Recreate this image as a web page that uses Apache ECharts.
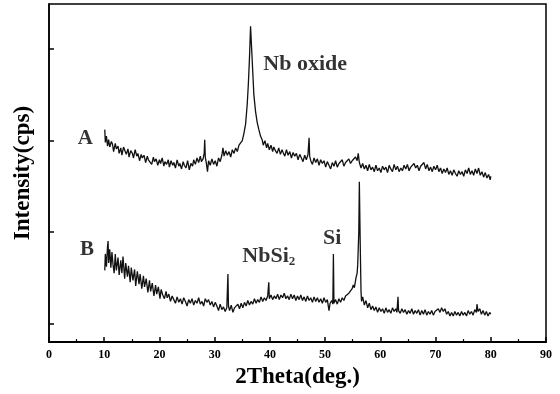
<!DOCTYPE html>
<html>
<head>
<meta charset="utf-8">
<script src="https://cdn.jsdelivr.net/npm/echarts@6/dist/echarts.min.js"></script>
<style>
  html, body { margin: 0; padding: 0; background: #fff; }
  #chart { width: 560px; height: 394px; }
</style>
</head>
<body>
<div id="chart"></div>
<script>
// 2Theta (deg) / intensity pairs (arbitrary cps units)
var traceA = [
  [10.1,212],[10.2,198],[10.4,205],[10.6,194],[10.8,201],[11.0,193],[11.3,199],[11.5,196],[11.7,188],[12.0,197],
  [12.2,191],[12.5,194],[12.7,186],[13.0,192],[13.2,184],[13.5,193],[13.8,188],[14.0,185],[14.3,191],[14.5,182],
  [14.8,189],[15.1,186],[15.3,181],[15.6,190],[15.9,183],[16.1,186],[16.4,178],[16.7,185],[16.9,181],[17.2,184],
  [17.5,176],[17.8,183],[18.0,179],[18.3,181],[18.6,174],[18.9,182],[19.1,177],[19.4,180],[19.7,173],[20.0,179],
  [20.2,175],[20.5,181],[20.8,172],[21.0,177],[21.3,174],[21.6,179],[21.8,171],[22.1,178],[22.4,173],[22.6,176],
  [22.9,170],[23.2,179],[23.5,172],[23.7,175],[24.0,169],[24.3,177],[24.5,173],[24.8,170],[25.1,178],[25.4,168],
  [25.7,175],[26.0,172],[26.2,179],[26.5,174],[26.8,181],[27.1,176],[27.4,183],[27.6,177],[27.9,180],[28.1,186],
  [28.2,201],[28.3,182],[28.5,175],[28.7,166],[28.9,178],[29.2,173],[29.5,180],[29.8,174],[30.1,178],[30.4,172],
  [30.7,181],[31.0,177],[31.3,184],[31.5,192],[31.7,183],[32.0,189],[32.3,184],[32.6,188],[32.9,182],[33.2,190],
  [33.5,186],[33.8,192],[34.1,188],[34.4,195],[34.7,193],[35.0,200],[35.3,208],[35.6,218],[35.9,240],[36.1,262],
  [36.3,290],[36.5,325],[36.7,300],[36.9,275],[37.1,250],[37.4,232],[37.7,220],[38.0,212],[38.3,205],[38.6,201],
  [38.8,195],[39.1,200],[39.4,192],[39.6,197],[39.9,190],[40.2,195],[40.5,188],[40.7,193],[41.0,189],[41.3,186],
  [41.6,192],[41.9,185],[42.2,190],[42.4,187],[42.7,183],[43.0,190],[43.3,184],[43.6,188],[43.9,181],[44.2,187],
  [44.5,183],[44.8,186],[45.1,179],[45.4,185],[45.7,181],[46.0,177],[46.3,184],[46.6,179],[46.9,185],[47.1,203],
  [47.2,183],[47.4,178],[47.7,174],[48.0,181],[48.3,176],[48.6,180],[48.9,173],[49.2,179],[49.5,175],[49.8,178],
  [50.1,171],[50.4,177],[50.7,173],[51.0,169],[51.3,176],[51.6,172],[51.9,178],[52.2,171],[52.5,175],[52.8,173],
  [53.1,179],[53.4,172],[53.7,176],[54.0,174],[54.3,180],[54.6,175],[54.9,178],[55.2,176],[55.5,182],[55.8,178],
  [56.0,186],[56.2,176],[56.5,170],[56.8,175],[57.1,169],[57.4,173],[57.7,167],[58.0,174],[58.3,168],[58.6,171],
  [58.9,166],[59.2,173],[59.5,167],[59.8,170],[60.1,165],[60.4,172],[60.7,168],[61.0,171],[61.3,165],[61.6,173],
  [61.9,169],[62.2,166],[62.5,174],[62.8,168],[63.1,172],[63.4,166],[63.7,170],[64.0,167],[64.3,173],[64.6,169],
  [64.9,174],[65.2,167],[65.5,171],[65.8,169],[66.1,175],[66.4,170],[66.7,173],[67.0,167],[67.3,172],[67.6,170],
  [67.9,176],[68.2,169],[68.5,174],[68.8,167],[69.1,171],[69.4,166],[69.7,172],[70.0,168],[70.3,173],[70.6,166],
  [70.9,170],[71.2,164],[71.5,169],[71.8,165],[72.1,170],[72.4,163],[72.7,167],[73.0,162],[73.3,168],[73.6,164],
  [73.9,161],[74.2,167],[74.5,163],[74.8,166],[75.1,161],[75.4,168],[75.7,164],[76.0,170],[76.3,163],[76.6,167],
  [76.9,162],[77.2,169],[77.5,164],[77.8,170],[78.1,162],[78.4,166],[78.7,160],[79.0,165],[79.3,159],[79.6,163],
  [79.9,157],[80.0,161]
];
var traceB = [
  [10.1,58],[10.2,76],[10.4,62],[10.6,84],[10.7,90],[10.8,66],[11.0,81],[11.2,61],[11.4,78],[11.6,64],
  [11.8,55],[12.0,76],[12.2,58],[12.5,72],[12.7,53],[13.0,69],[13.2,55],[13.4,73],[13.7,49],[13.9,66],
  [14.2,51],[14.4,63],[14.7,45],[14.9,61],[15.2,47],[15.5,59],[15.7,41],[16.0,57],[16.3,43],[16.5,54],
  [16.8,38],[17.1,52],[17.3,40],[17.6,49],[17.9,34],[18.2,47],[18.4,35],[18.7,44],[19.0,30],[19.3,42],
  [19.5,32],[19.8,40],[20.1,27],[20.3,37],[20.6,31],[20.9,27],[21.2,35],[21.4,28],[21.7,32],[22.0,24],
  [22.3,30],[22.6,26],[22.9,22],[23.2,29],[23.5,23],[23.8,27],[24.1,21],[24.4,28],[24.7,24],[25.0,19],
  [25.3,26],[25.6,22],[25.9,27],[26.2,20],[26.5,25],[26.8,22],[27.1,28],[27.4,21],[27.7,24],[28.0,19],
  [28.3,27],[28.6,23],[28.9,26],[29.2,20],[29.5,24],[29.8,18],[30.1,23],[30.4,19],[30.7,14],[31.0,21],
  [31.3,15],[31.6,18],[31.9,13],[32.2,17],[32.4,54],[32.5,19],[32.7,14],[33.0,20],[33.3,12],[33.6,17],
  [33.9,15],[34.2,21],[34.5,16],[34.8,22],[35.1,17],[35.4,23],[35.7,19],[36.0,25],[36.3,20],[36.6,24],
  [36.9,21],[37.2,27],[37.5,22],[37.8,26],[38.1,23],[38.4,29],[38.7,24],[39.0,28],[39.3,25],[39.6,30],
  [39.8,45],[39.9,27],[40.2,31],[40.5,26],[40.8,30],[41.1,27],[41.4,32],[41.7,26],[42.0,31],[42.3,28],
  [42.6,33],[42.9,27],[43.2,30],[43.5,26],[43.8,32],[44.1,27],[44.4,31],[44.7,25],[45.0,30],[45.3,26],
  [45.6,31],[45.9,25],[46.2,29],[46.5,24],[46.8,30],[47.1,25],[47.4,28],[47.7,23],[48.0,29],[48.3,24],
  [48.6,28],[48.9,23],[49.2,27],[49.5,22],[49.8,28],[50.1,23],[50.4,26],[50.7,14],[50.9,22],[51.2,25],
  [51.4,21],[51.5,76],[51.6,22],[51.9,26],[52.2,21],[52.5,27],[52.8,23],[53.1,28],[53.4,25],[53.7,30],
  [54.0,28],[54.3,33],[54.6,31],[54.9,38],[55.1,42],[55.3,39],[55.6,50],[55.8,55],[55.9,64],[56.1,100],
  [56.2,155],[56.35,90],[56.5,35],[56.6,24],[56.8,29],[57.1,20],[57.4,25],[57.7,17],[58.0,22],[58.3,15],
  [58.6,19],[58.9,14],[59.2,18],[59.5,12],[59.8,17],[60.1,13],[60.4,16],[60.7,11],[61.0,17],[61.3,12],
  [61.6,15],[61.9,11],[62.2,17],[62.5,13],[62.8,16],[63.0,12],[63.2,29],[63.3,14],[63.6,11],[63.9,16],
  [64.2,12],[64.5,15],[64.8,10],[65.1,14],[65.4,11],[65.7,16],[66.0,10],[66.3,14],[66.6,11],[66.9,15],
  [67.2,9],[67.5,14],[67.8,10],[68.1,15],[68.4,9],[68.7,13],[69.0,10],[69.3,14],[69.6,9],[69.9,13],
  [70.2,11],[70.5,16],[70.8,12],[71.1,17],[71.4,13],[71.7,16],[72.0,10],[72.3,13],[72.6,8],[72.9,12],
  [73.2,8],[73.5,13],[73.8,9],[74.1,12],[74.4,8],[74.7,13],[75.0,9],[75.3,12],[75.6,8],[75.9,14],
  [76.2,10],[76.5,13],[76.8,9],[77.1,15],[77.4,12],[77.5,21],[77.7,13],[78.0,16],[78.3,10],[78.6,14],
  [78.9,9],[79.2,13],[79.5,8],[79.8,12],[80.0,10]
];
// y ticks (no labels shown)
var yTicks = [0, 100, 200, 300];
// annotations: [2Theta, intensity, text]
var notes = [
  [5.2, 202, "A"],
  [5.6, 81, "B"],
  [38.8, 285, "Nb oxide"],
  [35.0, 74, "NbSi2"],
  [49.6, 94, "Si"]
];

var serif = "'Liberation Serif', 'Times New Roman', serif";
var chart = echarts.init(document.getElementById("chart"));

var option = {
  animation: false,
  backgroundColor: "#fff",
  grid: {
    left: 49, right: 14, top: 4, bottom: 47,
    show: true, borderColor: "#000", borderWidth: 1.5
  },
  xAxis: {
    type: "value",
    min: 0, max: 90, interval: 10,
    name: "2Theta(deg.)",
    nameLocation: "middle",
    nameGap: 20,
    nameTextStyle: { fontFamily: serif, fontWeight: "bold", fontSize: 23, color: "#000" },
    axisLine: { onZero: false, lineStyle: { color: "#000", width: 2 } },
    axisTick: { inside: true, length: 5, lineStyle: { color: "#000", width: 1.5 } },
    minorTick: { show: true, splitNumber: 2, length: 3, lineStyle: { color: "#000", width: 1.2 } },
    axisLabel: { fontFamily: serif, fontWeight: "bold", fontSize: 12, color: "#000", margin: 7 },
    splitLine: { show: false }
  },
  yAxis: {
    type: "value",
    min: -20.5, max: 349.5,
    name: "Intensity(cps)",
    nameLocation: "middle",
    nameGap: 14,
    nameTextStyle: { fontFamily: serif, fontWeight: "bold", fontSize: 23, color: "#000" },
    axisLine: { onZero: false, lineStyle: { color: "#000", width: 1.5 } },
    axisTick: { inside: true, length: 5, customValues: yTicks, lineStyle: { color: "#000", width: 1.5 } },
    axisLabel: { show: false },
    splitLine: { show: false }
  },
  series: [
    {
      name: "A", type: "line", data: traceA, showSymbol: false, symbol: "none",
      lineStyle: { color: "#111", width: 1.3 }
    },
    {
      name: "B", type: "line", data: traceB, showSymbol: false, symbol: "none",
      lineStyle: { color: "#111", width: 1.3 }
    },
    {
      // text labels anchored in data space
      name: "notes", type: "scatter", symbolSize: 0, silent: true,
      data: notes.map(function (n) { return { value: [n[0], n[1]], name: n[2] }; }),
      label: {
        show: true,
        position: "right",
        distance: 0,
        color: "#000",
        formatter: function (p) {
          if (p.name === "NbSi2") return "{m|NbSi}{s|2}";
          if (p.name === "A" || p.name === "B") return "{ab|" + p.name + "}";
          return "{m|" + p.name + "}";
        },
        rich: {
          m: { fontFamily: serif, fontWeight: "bold", fontSize: 22, color: "#000", verticalAlign: "bottom", lineHeight: 24 },
          s: { fontFamily: serif, fontWeight: "bold", fontSize: 13, color: "#000", verticalAlign: "bottom", lineHeight: 3 },
          ab: { fontFamily: serif, fontWeight: "bold", fontSize: 21, color: "#000" }
        }
      }
    }
  ]
};
chart.setOption(option);
</script>
</body>
</html>
